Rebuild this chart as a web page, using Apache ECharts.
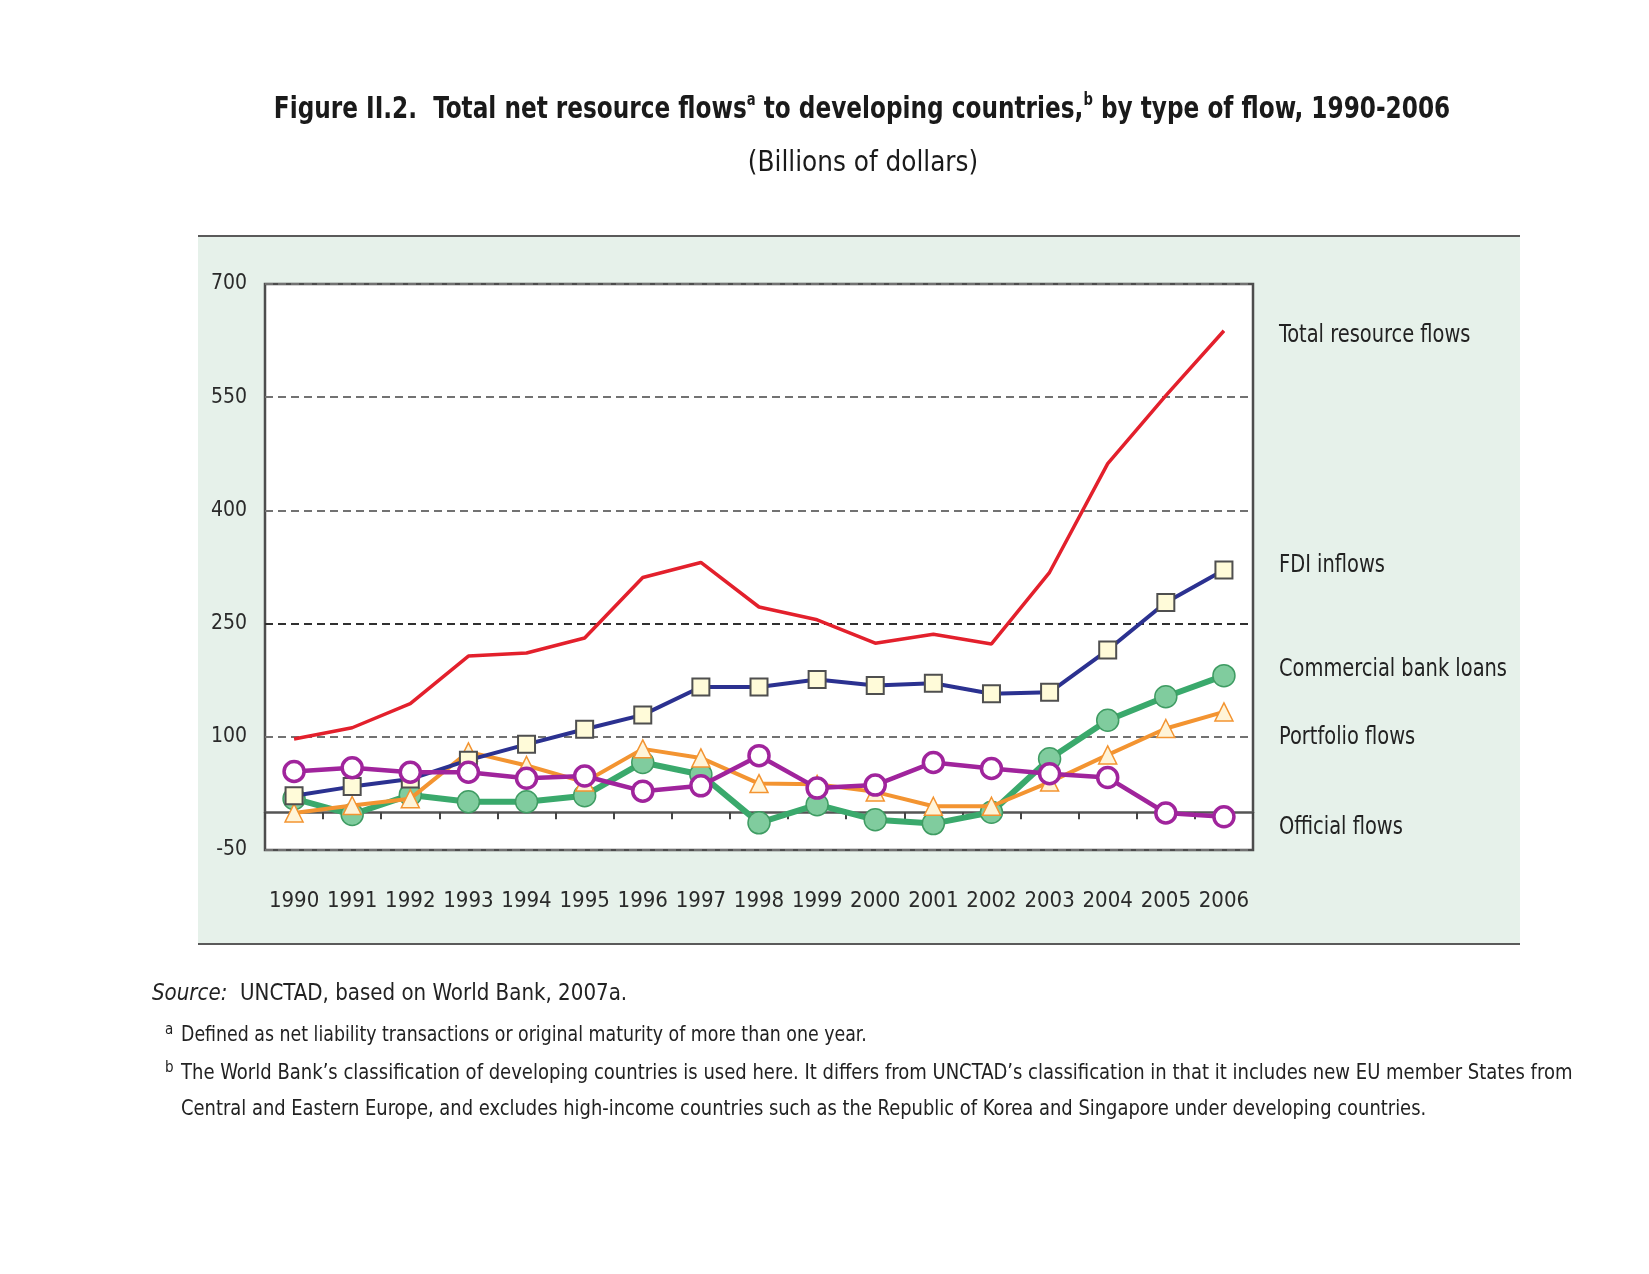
<!DOCTYPE html>
<html>
<head>
<meta charset="utf-8">
<script src="https://cdn.jsdelivr.net/npm/echarts@6/dist/echarts.min.js"></script>
<style>
html,body{margin:0;padding:0;background:#ffffff;}
#chart{width:1649px;height:1274px;}
</style>
</head>
<body>
<div id="chart"></div>
<script>
// ---- data (billions of dollars) ----
const years = ['1990','1991','1992','1993','1994','1995','1996','1997','1998','1999','2000','2001','2002','2003','2004','2005','2006'];
const totalFlows     = [97, 112, 144, 207, 211, 231, 311, 331, 272, 255, 224, 236, 223, 318, 462, 552, 638];
const fdiInflows     = [22, 34, 44, 69, 90, 110, 129, 166, 166, 176, 168, 171, 157, 159, 215, 278, 321];
const bankLoans      = [18, -3, 23, 14, 14, 22, 66, 50, -14, 10, -10, -15, 0, 71, 122, 153, 181];
const portfolioFlows = [-1, 9, 18, 80, 62, 40, 84, 72, 38, 37, 27, 8, 8, 40, 76, 111, 133];
const officialFlows  = [54, 59, 53, 53, 45, 48, 28, 35, 75, 32, 36, 66, 58, 51, 46, -1, -6];
const yTickValues = [-50, 100, 250, 400, 550, 700];
const seriesLabels = ['Total resource flows', 'FDI inflows', 'Commercial bank loans', 'Portfolio flows', 'Official flows'];

const NARROW = '"Liberation Sans Narrow", "Arial Narrow", "DejaVu Sans Condensed", "Liberation Sans", sans-serif';

const chart = echarts.init(document.getElementById('chart'), null, {renderer: 'canvas'});

const labelYs = [336, 566, 670, 738, 828];

function sideLabel(i) {
  return {type: 'text', z: 10, x: 1279, y: labelYs[i], scaleX: 0.9,
    style: {x: 0, y: 0, align: 'left', verticalAlign: 'middle', text: seriesLabels[i], fontFamily: NARROW, fontSize: 24, fill: '#222222'}};
}
function noteText(x, y, sx, text, size) {
  return {type: 'text', z: 10, x: x, y: y, scaleX: sx,
    style: {x: 0, y: 0, align: 'left', verticalAlign: 'middle', text: text, fontFamily: NARROW, fontSize: size, fill: '#222222'}};
}

const option = {
  backgroundColor: '#ffffff',
  animation: false,
  grid: {
    left: 265, top: 284, width: 988, height: 566,
    show: true, backgroundColor: '#ffffff', borderColor: '#4d4d4d', borderWidth: 2.5,
    containLabel: false
  },
  xAxis: {
    type: 'category',
    data: years,
    boundaryGap: true,
    axisLine: {show: true, onZero: true, lineStyle: {color: '#555555', width: 2.5}},
    axisTick: {show: true, inside: false, length: 7, alignWithLabel: false, lineStyle: {color: '#444444', width: 2}},
    axisLabel: {color: '#2a2a2a', fontFamily: NARROW, fontSize: 22, margin: 40, interval: 0},
    splitLine: {show: false}
  },
  yAxis: {
    type: 'value',
    min: -50, max: 700,
    axisLine: {show: false},
    axisTick: {show: false, customValues: yTickValues},
    axisLabel: {color: '#2a2a2a', fontFamily: NARROW, fontSize: 21, margin: 18, customValues: yTickValues},
    splitLine: {show: true, lineStyle: {type: [8, 5], width: 2, color: ['#727272', '#727272', '#303030', '#727272', '#727272', '#727272']}}
  },
  series: [
    {
      name: seriesLabels[0], type: 'line', data: totalFlows, z: 3,
      symbol: 'none', lineStyle: {color: '#e3202c', width: 3.5}
    },
    {
      name: seriesLabels[2], type: 'line', data: bankLoans, z: 4,
      symbol: 'circle', symbolSize: 22,
      lineStyle: {color: '#3aa96c', width: 6},
      itemStyle: {color: '#80cc9e', borderColor: '#3f9c63', borderWidth: 1.5}
    },
    {
      name: seriesLabels[3], type: 'line', data: portfolioFlows, z: 5,
      symbol: 'triangle', symbolSize: 18,
      lineStyle: {color: '#f39431', width: 4},
      itemStyle: {color: '#fff4d8', borderColor: '#f39431', borderWidth: 1.5}
    },
    {
      name: seriesLabels[1], type: 'line', data: fdiInflows, z: 6,
      symbol: 'rect', symbolSize: 17,
      lineStyle: {color: '#2b3190', width: 4},
      itemStyle: {color: '#fffbd9', borderColor: '#4f4f4f', borderWidth: 2}
    },
    {
      name: seriesLabels[4], type: 'line', data: officialFlows, z: 7,
      symbol: 'circle', symbolSize: 20,
      lineStyle: {color: '#a0249c', width: 4.5},
      itemStyle: {color: '#ffffff', borderColor: '#a0249c', borderWidth: 3.5}
    }
  ],
  graphic: [
    {type: 'rect', z: -10, shape: {x: 198, y: 236, width: 1322, height: 708}, style: {fill: '#e6f1ea'}},
    {type: 'line', z: -9, shape: {x1: 198, y1: 236, x2: 1520, y2: 236}, style: {stroke: '#5a5a5a', lineWidth: 2}},
    {type: 'line', z: -9, shape: {x1: 198, y1: 944, x2: 1520, y2: 944}, style: {stroke: '#5a5a5a', lineWidth: 2}},
    {
      type: 'text', z: 10, x: 862, y: 110, scaleX: 0.86,
      style: {
        x: 0, y: 0, align: 'center', verticalAlign: 'middle',
        text: '{t|Figure II.2.  Total net resource flows}{s|a}{t| to developing countries,}{s|b}{t| by type of flow, 1990-2006}',
        rich: {
          t: {fontFamily: NARROW, fontSize: 30, fontWeight: 'bold', fill: '#1a1a1a', lineHeight: 36},
          s: {fontFamily: NARROW, fontSize: 17, fontWeight: 'bold', fill: '#1a1a1a', verticalAlign: 'top', lineHeight: 36}
        }
      }
    },
    {
      type: 'text', z: 10, x: 863, y: 163, scaleX: 0.95,
      style: {x: 0, y: 0, align: 'center', verticalAlign: 'middle', text: '(Billions of dollars)',
        fontFamily: NARROW, fontSize: 29, fill: '#1a1a1a'}
    },
    sideLabel(0), sideLabel(1), sideLabel(2), sideLabel(3), sideLabel(4),
    {
      type: 'text', z: 10, x: 152, y: 994, scaleX: 0.96,
      style: {
        x: 0, y: 0, align: 'left', verticalAlign: 'middle',
        text: '{i|Source:}{n|  UNCTAD, based on World Bank, 2007a.}',
        rich: {
          i: {fontFamily: NARROW, fontSize: 23, fontStyle: 'italic', fill: '#222222'},
          n: {fontFamily: NARROW, fontSize: 23, fill: '#222222'}
        }
      }
    },
    noteText(165, 1030, 1, 'a', 15),
    noteText(181, 1036, 0.92, 'Defined as net liability transactions or original maturity of more than one year.', 21),
    noteText(165, 1068, 1, 'b', 15),
    noteText(181, 1074, 0.953, 'The World Bank\u2019s classification of developing countries is used here. It differs from UNCTAD\u2019s classification in that it includes new EU member States from', 21),
    noteText(181, 1110, 0.948, 'Central and Eastern Europe, and excludes high-income countries such as the Republic of Korea and Singapore under developing countries.', 21)
  ]
};

chart.setOption(option);
</script>
</body>
</html>
